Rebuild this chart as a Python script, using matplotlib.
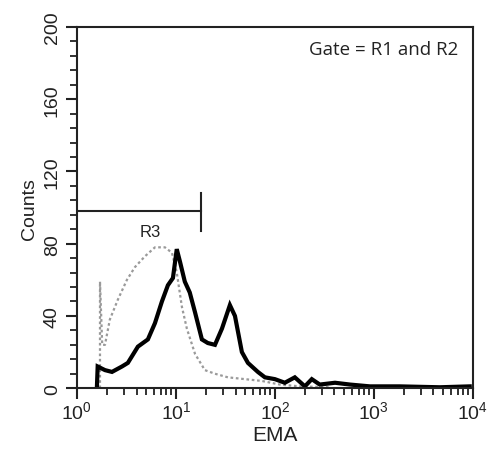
import matplotlib.pyplot as plt
from matplotlib.ticker import LogLocator, MultipleLocator

# === Histogram data (EMA fluorescence vs counts) ===
stained_ema = [1.59, 1.62, 1.92, 2.26, 2.85, 3.27, 4.13, 5.21, 6.14, 7.22, 8.30, 9.33,
               10.2, 11.0, 12.3, 13.8, 15.6, 18.3, 21.0, 24.8, 29.2, 35.1, 39.5, 46.4,
               53.4, 67.3, 79.3, 100, 126, 159, 201, 236, 284, 405, 574, 911, 1820, 4640, 9300]
stained_counts = [0, 12, 10, 9, 12, 14, 23, 27, 36, 48, 57, 61,
                  77, 70, 59, 53, 42, 27, 25, 24, 33, 46, 40, 20,
                  14, 9, 6, 5, 3, 6, 1, 5, 2, 3, 2, 1, 1, 0.5, 1]

control_ema = [1.71, 1.71, 1.80, 1.92, 2.15, 2.59, 3.20, 3.85, 4.86, 6.14, 7.74, 9.12,
               10.2, 11.5, 12.9, 15.6, 19.6, 24.8, 33.5, 49.8, 73.9, 112, 179, 360]
control_counts = [0, 59, 24, 24, 38, 49, 60, 67, 73, 78, 78, 75,
                  64, 45, 33, 19, 10, 8, 6, 5, 4, 2, 1, 0.5]

# R3 marker: from the left edge to its upper bound, at this count level
r3_upper = 17.9
r3_level = 98

plt.rcParams['font.family'] = ['Liberation Sans', 'DejaVu Sans']

fig = plt.figure(figsize=(4.9, 4.52), dpi=100)
ax = fig.add_axes([0.157, 0.139, 0.808, 0.799])

ax.plot(control_ema, control_counts, color='#9a9a9a', lw=1.6, ls=(0, (1.2, 1.2)))
ax.plot(stained_ema, stained_counts, color='black', lw=3.0, solid_joinstyle='miter')

# R3 gate
ax.plot([1, r3_upper], [r3_level, r3_level], color='#222222', lw=1.5)
ax.plot([r3_upper, r3_upper], [r3_level - 11, r3_level + 10], color='#222222', lw=1.5)
ax.text(5.5, r3_level - 7, 'R3', ha='center', va='top', fontsize=12, color='#222222')

ax.text(0.962, 0.94, 'Gate = R1 and R2', transform=ax.transAxes, ha='right', va='center',
        fontsize=13.5, family=['Open Sans', 'DejaVu Sans'], color='#222222')

ax.set_xscale('log')
ax.set_xlim(1, 10000)
ax.set_ylim(0, 200)
ax.xaxis.set_major_locator(LogLocator(base=10, numticks=10))
ax.xaxis.set_minor_locator(LogLocator(base=10, subs=range(2, 10), numticks=20))
ax.yaxis.set_major_locator(MultipleLocator(40))
ax.yaxis.set_minor_locator(MultipleLocator(8))

for s in ax.spines.values():
    s.set_linewidth(1.5)
    s.set_color('#222222')
ax.tick_params(which='major', length=8, width=1.5, colors='#222222', labelsize=14)
ax.tick_params(which='minor', length=5, width=1.3, colors='#222222')
ax.tick_params(axis='x', which='major', pad=1)
plt.setp(ax.get_yticklabels(), rotation=90, va='center')

ax.set_xlabel('EMA', fontsize=15, labelpad=2, color='#222222')
ax.set_ylabel('Counts', fontsize=14, labelpad=4, color='#222222')

plt.savefig('out.png', dpi=100)
